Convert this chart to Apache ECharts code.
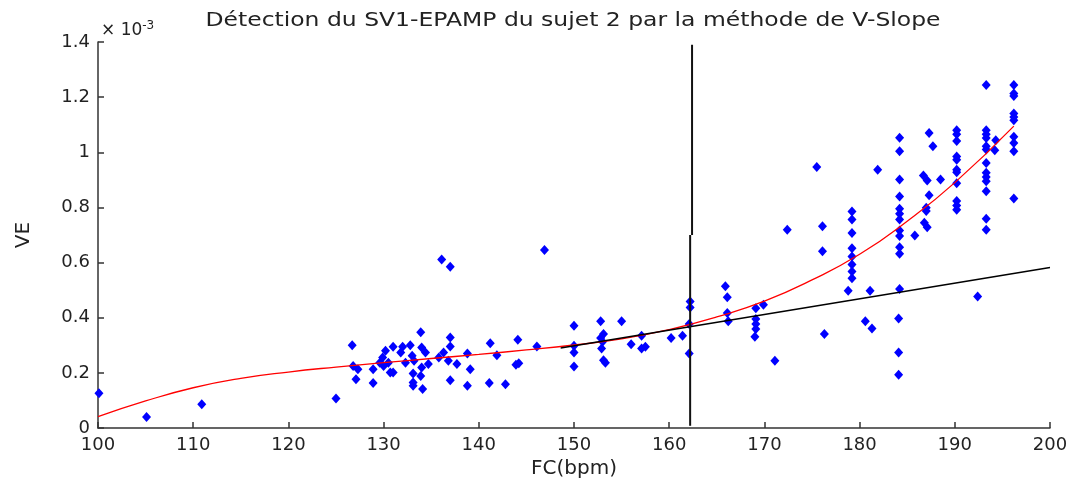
<!DOCTYPE html>
<html>
<head>
<meta charset="utf-8">
<script src="https://cdn.jsdelivr.net/npm/echarts@6/dist/echarts.min.js"></script>
<style>
  html, body { margin: 0; padding: 0; background: #fff; }
  #main { width: 1078px; height: 480px; }
</style>
</head>
<body>
<div id="main"></div>
<script>
// points mesurés : FC (bpm), VE (x 10^-3)
var fcPoints = [
  100.1, 105.1, 110.9, 125.0, 126.7, 126.8, 127.3, 127.1, 128.9, 128.9,
  130.2, 129.9, 129.6, 130.0, 130.5, 130.7, 131.0, 131.0, 131.8, 132.0,
  132.3, 132.8, 133.0, 133.2, 133.1, 133.1, 133.1, 133.9, 134.0, 134.4,
  134.0, 133.9, 134.1, 134.7, 135.8, 136.3, 136.8, 137.0, 137.0, 137.7,
  137.0, 138.8, 139.1, 138.8, 136.1, 137.0, 146.9,
  141.2, 141.9, 141.1, 142.8, 143.9, 144.2, 144.1, 146.1,
  150.0, 150.0, 150.0, 150.0, 152.8, 153.1, 152.8, 153.0, 152.9, 153.1, 153.3,
  155.0, 156.0, 157.1, 157.1, 157.5, 160.2, 161.4, 162.1, 162.1, 162.2, 162.2,
  165.9, 166.1, 166.1, 166.2, 169.1, 169.9, 169.1, 169.1, 169.1, 169.0, 171.1,
  172.4, 175.5, 176.1, 176.1, 176.3,
  179.2, 179.2, 179.2, 179.2, 179.2, 179.2, 179.2, 179.2, 178.8, 181.1, 180.6, 181.3, 181.9,
  184.2, 184.2, 184.2, 184.2, 184.2, 184.2, 184.2, 184.2, 184.2, 184.2, 184.2, 184.2,
  184.1, 184.1, 184.1,
  185.8, 186.7, 187.1, 187.3, 187.7, 188.5, 187.3, 187.0, 187.0, 186.8, 187.1,
  190.2, 190.2, 190.2, 190.2, 190.2, 190.2, 190.2, 190.2, 190.2, 190.2, 190.2,
  192.4,
  193.3, 193.3, 193.3, 193.3, 193.3, 193.3, 193.3, 193.3, 193.3, 193.3, 193.3, 193.3, 193.3,
  194.3, 194.2,
  196.2, 196.2, 196.2, 196.2, 196.2, 196.2, 196.2, 196.2, 196.2, 196.2
];
var vePoints = [
  0.126, 0.040, 0.086, 0.107, 0.300, 0.225, 0.213, 0.177, 0.213, 0.163,
  0.280, 0.256, 0.237, 0.225, 0.237, 0.201, 0.201, 0.295, 0.274, 0.295,
  0.237, 0.300, 0.262, 0.244, 0.198, 0.165, 0.153, 0.347, 0.292, 0.274,
  0.219, 0.189, 0.141, 0.232, 0.256, 0.274, 0.244, 0.328, 0.296, 0.232,
  0.173, 0.270, 0.213, 0.153, 0.611, 0.585, 0.646,
  0.307, 0.264, 0.163, 0.159, 0.229, 0.235, 0.320, 0.296,
  0.371, 0.298, 0.274, 0.223, 0.387, 0.341, 0.326, 0.313, 0.288, 0.246, 0.237,
  0.387, 0.304, 0.335, 0.288, 0.295, 0.326, 0.335, 0.377, 0.270, 0.459, 0.437,
  0.514, 0.474, 0.417, 0.387, 0.434, 0.447, 0.395, 0.377, 0.359, 0.331, 0.244,
  0.719, 0.947, 0.732, 0.641, 0.341,
  0.785, 0.756, 0.707, 0.652, 0.622, 0.593, 0.568, 0.543, 0.498, 0.498, 0.387, 0.361, 0.937,
  1.053, 1.004, 0.901, 0.840, 0.795, 0.777, 0.756, 0.716, 0.696, 0.656, 0.632, 0.504,
  0.397, 0.274, 0.193,
  0.698, 0.916, 0.898, 1.070, 1.022, 0.901, 0.844, 0.799, 0.787, 0.744, 0.728,
  1.080, 1.065, 1.041, 0.985, 0.973, 0.937, 0.928, 0.888, 0.823, 0.807, 0.792,
  0.477,
  1.244, 1.080, 1.065, 1.052, 1.022, 1.010, 0.961, 0.926, 0.910, 0.895, 0.859, 0.759, 0.719,
  1.044, 1.007,
  1.244, 1.213, 1.204, 1.141, 1.128, 1.116, 1.056, 1.034, 1.004, 0.832
];

// courbe d'ajustement (rouge)
var fitFC = [100, 105, 110, 115, 120, 125, 130, 135, 140, 145, 150, 155, 160, 165, 170, 175, 180, 185, 190, 196.2];
var fitVE = [0.041, 0.098, 0.146, 0.180, 0.203, 0.221, 0.237, 0.252, 0.267, 0.283, 0.301, 0.323, 0.357, 0.403, 0.460, 0.537, 0.630, 0.750, 0.890, 1.095];

// droite V-Slope (noire)
var slopeFC = [148.6, 200];
var slopeVE = [0.290, 0.582];

// seuil SV1 (deux segments)
var seuilHautFC = [162.4, 162.4];
var seuilHautVE = [1.39, 0.70];
var seuilBasFC = [162.2, 162.2];
var seuilBasVE = [0.70, 0.008];

var xTicks = [100, 110, 120, 130, 140, 150, 160, 170, 180, 190, 200];
var yTicks = [0, 0.2, 0.4, 0.6, 0.8, 1, 1.2, 1.4];

var titre = 'Détection du SV1-EPAMP du sujet 2 par la méthode de V-Slope';

function zip(a, b) {
  return a.map(function (v, i) { return [v, b[i]]; });
}

var font = '"DejaVu Sans", Arial, sans-serif';

// le titre de l'original est étiré horizontalement
var ctx = document.createElement('canvas').getContext('2d');
ctx.font = '19px "DejaVu Sans"';
var titreScale = 735 / ctx.measureText(titre).width;

var chart = echarts.init(document.getElementById('main'));

chart.setOption({
  animation: false,
  backgroundColor: '#fff',
  graphic: [{
    type: 'text',
    x: 573, y: 21,
    scaleX: titreScale,
    style: {
      text: titre,
      font: '19px "DejaVu Sans"',
      fill: '#222',
      textAlign: 'center',
      textVerticalAlign: 'middle'
    }
  }],
  title: {
    text: '× 10{s|-3}',
    left: 96, top: 15,
    textStyle: {
      fontFamily: font, fontSize: 17, fontWeight: 'normal', color: '#222',
      rich: { s: { fontFamily: font, fontSize: 12, color: '#222', verticalAlign: 'top', padding: [0, 0, 9, 0] } }
    }
  },
  grid: { left: 98, right: 28, top: 42, bottom: 52, outerBoundsMode: 'none', containLabel: false },
  xAxis: {
    type: 'value', min: 100, max: 200, interval: 10,
    name: 'FC(bpm)', nameLocation: 'middle', nameGap: 29,
    nameTextStyle: { fontFamily: font, fontSize: 20, color: '#222' },
    axisLine: { show: true, lineStyle: { color: '#333', width: 1.5 } },
    axisTick: { show: true, inside: true, length: 6, lineStyle: { color: '#333', width: 1.5 } },
    axisLabel: {
      fontFamily: font, fontSize: 18, color: '#222', margin: 8,
      formatter: function (v) { return xTicks.indexOf(v) >= 0 ? String(v) : ''; }
    },
    splitLine: { show: false }
  },
  yAxis: {
    type: 'value', min: 0, max: 1.4, interval: 0.2,
    name: 'VE', nameLocation: 'middle', nameGap: 64,
    nameTextStyle: { fontFamily: font, fontSize: 20, color: '#222' },
    axisLine: { show: true, lineStyle: { color: '#333', width: 1.5 } },
    axisTick: { show: true, inside: true, length: 6, lineStyle: { color: '#333', width: 1.5 } },
    axisLabel: {
      fontFamily: font, fontSize: 18, color: '#222', margin: 8,
      formatter: function (v) {
        var t = yTicks.find(function (k) { return Math.abs(k - v) < 1e-6; });
        return t === undefined ? '' : String(t);
      }
    },
    splitLine: { show: false }
  },
  series: [{
    type: 'scatter',
    data: zip(fcPoints, vePoints),
    symbol: 'diamond',
    symbolSize: [9, 10],
    itemStyle: { color: '#0000ff', opacity: 1 },
    z: 3
  }, {
    type: 'line',
    data: zip(fitFC, fitVE),
    smooth: 0.5,
    showSymbol: false,
    lineStyle: { color: '#ff0000', width: 1.3 },
    z: 4
  }, {
    type: 'line',
    data: zip(slopeFC, slopeVE),
    showSymbol: false,
    lineStyle: { color: '#000', width: 1.4 },
    z: 4
  }, {
    type: 'line',
    data: zip(seuilHautFC, seuilHautVE),
    showSymbol: false,
    lineStyle: { color: '#111', width: 2 },
    z: 5
  }, {
    type: 'line',
    data: zip(seuilBasFC, seuilBasVE),
    showSymbol: false,
    lineStyle: { color: '#111', width: 2 },
    z: 5
  }]
});
</script>
</body>
</html>
